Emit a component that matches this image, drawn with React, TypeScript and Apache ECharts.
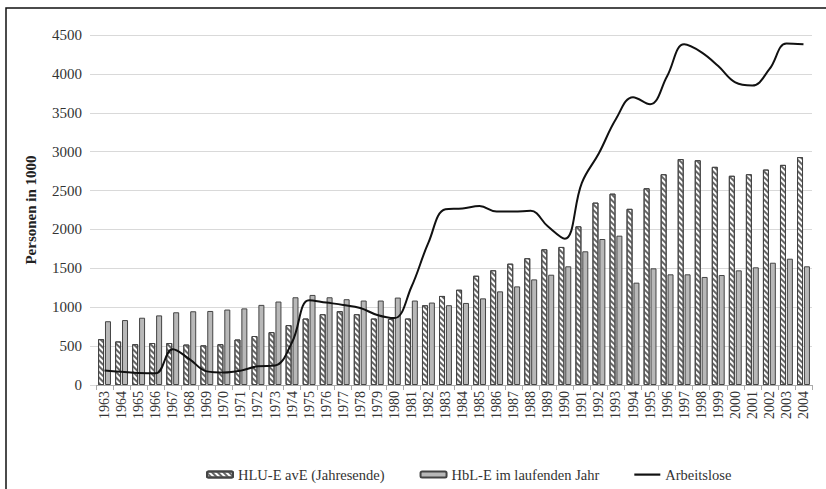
import React, { useEffect, useRef } from "react";
import * as echarts from "echarts";

const years = [
  "1963", "1964", "1965", "1966", "1967", "1968", "1969", "1970", "1971", "1972",
  "1973", "1974", "1975", "1976", "1977", "1978", "1979", "1980", "1981", "1982",
  "1983", "1984", "1985", "1986", "1987", "1988", "1989", "1990", "1991", "1992",
  "1993", "1994", "1995", "1996", "1997", "1998", "1999", "2000", "2001", "2002",
  "2003", "2004",
];

const hluE = [
  590, 560, 525, 540, 540, 520, 510, 525, 585, 630,
  680, 770, 855, 910, 950, 910, 855, 850, 855, 1025,
  1145, 1225, 1405, 1475, 1560, 1630, 1745, 1775, 2040, 2345,
  2460, 2265, 2530, 2710, 2905, 2890, 2805, 2690, 2710, 2770,
  2830, 2930,
];

const hblE = [
  820, 835, 865, 895, 935, 948, 952, 970, 985, 1030,
  1073, 1128, 1158, 1128, 1103, 1086, 1086, 1124, 1086, 1060,
  1026, 1055, 1114, 1204, 1268, 1358, 1418, 1526, 1719, 1877,
  1920, 1316, 1500, 1423, 1423, 1389, 1414, 1474, 1513, 1572,
  1624, 1526,
];

const arbeitslose = [
  185, 170, 155, 150, 460, 330, 175, 160, 185, 240,
  250, 550, 1090, 1060, 1030, 990, 900, 860, 1260, 1830,
  2260, 2270, 2300, 2230, 2230, 2240, 2040, 1880, 2600, 2980,
  3420, 3700, 3610, 3970, 4380, 4280, 4100, 3890, 3850, 4060,
  4390, 4380,
];

const seriesNames = ["HLU-E avE (Jahresende)", "HbL-E im laufenden Jahr", "Arbeitslose"];

const FONT = "'Liberation Serif', 'Times New Roman', serif";

export default function App() {
  const ref = useRef<HTMLDivElement>(null);
  useEffect(() => {
    document.body.style.margin = "0";
    if (!ref.current) return;
    const chart = echarts.init(ref.current, undefined, { renderer: "svg" });
    chart.setOption({
      animation: false,
      backgroundColor: "#ffffff",
      textStyle: { fontFamily: FONT, color: "#333" },
      graphic: [
        {
          type: "rect",
          shape: { x: 6, y: 8, width: 840, height: 500 },
          style: { fill: "none", stroke: "#111", lineWidth: 1.5 },
          silent: true,
          z: 100,
        },
      ],
      grid: { left: 96, right: 14, top: 35, bottom: 104 },
      legend: {
        bottom: 2,
        left: 201,
        itemWidth: 26,
        itemHeight: 6,
        itemGap: 35,
        textStyle: { fontFamily: FONT, fontSize: 14.5, color: "#333" },
        data: [
          { name: seriesNames[0] },
          { name: seriesNames[1] },
          { name: seriesNames[2], icon: "path://M0,0 M0,2 L26,2 L26,4.2 L0,4.2 Z M26,6" },
        ],
      },
      xAxis: {
        type: "category",
        data: years,
        axisLine: { lineStyle: { color: "#aaa" } },
        axisTick: { show: true, alignWithLabel: false, length: 5, lineStyle: { color: "#aaa" } },
        axisLabel: { rotate: 90, fontFamily: FONT, fontSize: 14, color: "#333", interval: 0, margin: 6 },
      },
      yAxis: {
        type: "value",
        min: 0,
        max: 4500,
        interval: 500,
        name: "Personen in 1000",
        nameLocation: "middle",
        nameGap: 58,
        nameTextStyle: { fontFamily: FONT, fontSize: 15, fontWeight: "bold", color: "#222" },
        axisLine: { show: false },
        axisTick: { show: true, length: 6, lineStyle: { color: "#d9d9d9" } },
        axisLabel: {
          fontFamily: FONT,
          fontSize: 15,
          color: "#333",
          margin: 14,
          formatter: (v: number) => String(v),
        },
        splitLine: { lineStyle: { color: "#d9d9d9", width: 1 } },
      },
      series: [
        {
          name: seriesNames[0],
          type: "bar",
          data: hluE,
          barWidth: 6,
          barGap: "15%",
          itemStyle: {
            color: "#ffffff",
            borderColor: "#444",
            borderWidth: 1,
            decal: {
              symbol: "rect",
              symbolSize: 1,
              dashArrayX: [[1, 0]],
              dashArrayY: [2, 2],
              rotation: Math.PI / 4,
              color: "#666",
            },
          },
        },
        {
          name: seriesNames[1],
          type: "bar",
          data: hblE,
          barWidth: 6,
          itemStyle: { color: "#b8b8b8", borderColor: "#444", borderWidth: 1 },
        },
        {
          name: seriesNames[2],
          type: "line",
          data: arbeitslose,
          smooth: 0.4,
          symbol: "none",
          lineStyle: { color: "#111", width: 2 },
          itemStyle: { color: "#111" },
          z: 5,
        },
      ],
    });
    return () => chart.dispose();
  }, []);
  return <div ref={ref} style={{ width: 826, height: 489 }} />;
}
